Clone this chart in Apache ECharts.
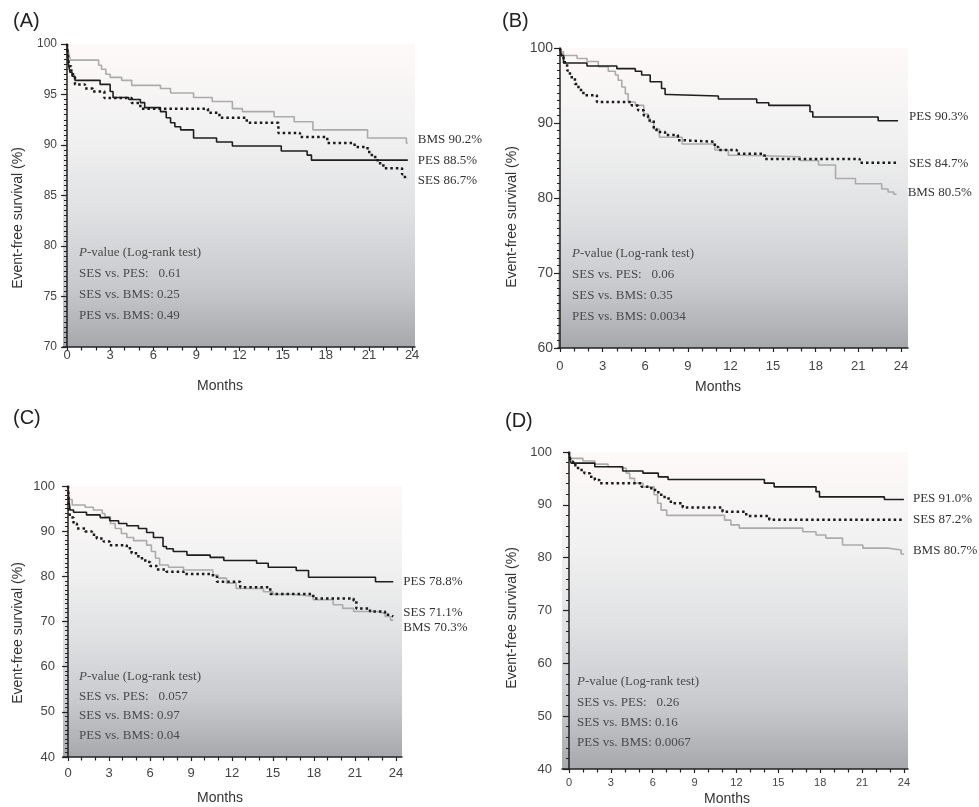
<!DOCTYPE html>
<html>
<head>
<meta charset="utf-8">
<title>Event-free survival by stent type</title>
<script src="https://cdn.jsdelivr.net/npm/echarts@6/dist/echarts.min.js"></script>
<style>
  html, body { margin: 0; padding: 0; background: #ffffff; }
  #chart { width: 979px; height: 807px; }
</style>
</head>
<body>
<div id="chart"></div>
<script>
// ---- Kaplan-Meier step data: month of each step and survival (%) from that month on ----

// (A)
const A_BMS_t = [0, 0.05, 0.15, 0.25, 2.2, 2.4, 2.7, 3.0, 3.8, 4.5, 6.5, 7.2, 8.8, 10.1, 11.5, 12.2, 14.4, 15.8, 17.1, 20.9, 23.6, 23.7];
const A_BMS_v = [100, 99.5, 98.9, 98.4, 97.9, 97.5, 97.0, 96.7, 96.4, 95.9, 95.6, 95.15, 94.7, 94.3, 93.6, 93.3, 92.8, 92.3, 91.5, 90.7, 90.2, 90.2];
const A_PES_t = [0, 0.05, 0.1, 0.2, 0.35, 0.55, 2.3, 3.0, 3.2, 4.3, 5.1, 5.4, 6.5, 6.9, 7.2, 7.5, 7.9, 8.8, 10.4, 11.5, 14.9, 16.7, 17.0, 23.7];
const A_PES_v = [100, 99, 98, 97.2, 96.8, 96.4, 96.0, 95.3, 94.7, 94.5, 94.2, 93.7, 93.3, 92.7, 92.2, 91.8, 91.5, 90.7, 90.3, 89.9, 89.4, 89.0, 88.5, 88.5];
const A_SES_t = [0, 0.05, 0.15, 0.3, 0.55, 1.25, 1.8, 2.6, 4.5, 5.1, 9.8, 10.6, 12.5, 14.7, 16.2, 18.1, 20.0, 20.9, 21.2, 21.6, 22.0, 23.3, 23.5, 23.7];
const A_SES_v = [100, 99, 97.8, 97.0, 96.0, 95.6, 95.3, 94.65, 94.15, 93.6, 93.2, 92.7, 92.2, 91.2, 90.8, 90.2, 89.8, 89.3, 88.8, 88.2, 87.7, 87.1, 86.7, 86.7];

// (B)
const B_BMS_t = [0, 0.1, 0.25, 1.2, 1.9, 2.7, 3.4, 3.9, 4.1, 4.35, 4.6, 4.8, 5.3, 5.9, 6.2, 6.35, 6.6, 7.0, 8.6, 10.9, 11.85, 12.8, 16.9, 18.2, 19.4, 20.8, 22.65, 23.1, 23.5, 23.7];
const B_BMS_v = [100, 99.5, 99.0, 98.6, 98.2, 97.5, 96.9, 96.4, 95.7, 94.8, 93.9, 92.8, 92.35, 91.2, 90.6, 90.1, 89.2, 88.1, 87.2, 86.4, 85.7, 85.5, 85.0, 84.4, 82.6, 81.9, 81.2, 80.8, 80.5, 80.5];
const B_PES_t = [0, 0.1, 0.25, 1.9, 4.0, 5.3, 5.75, 6.35, 7.15, 7.4, 7.6, 11.15, 13.85, 14.7, 17.6, 17.8, 22.4, 23.8];
const B_PES_v = [100, 99.0, 98.0, 97.6, 97.25, 96.9, 96.4, 95.5, 94.6, 93.8, 93.6, 93.2, 92.7, 92.35, 91.5, 90.8, 90.3, 90.3];
const B_SES_t = [0, 0.1, 0.25, 0.5, 0.7, 1.05, 1.3, 1.65, 2.6, 5.05, 5.5, 5.9, 6.2, 6.6, 6.8, 7.4, 8.3, 8.7, 10.9, 11.15, 12.45, 14.4, 21.1, 23.8];
const B_SES_v = [100, 99, 98.1, 97.0, 96.1, 95.2, 94.4, 93.7, 92.8, 92.35, 91.7, 91.0, 90.35, 89.2, 88.8, 88.4, 87.7, 87.5, 86.8, 86.4, 85.9, 85.2, 84.7, 84.7];

// (C)
const C_BMS_t = [0, 0.05, 0.3, 1.25, 1.85, 2.5, 2.7, 3.1, 3.45, 3.9, 4.3, 4.8, 5.75, 6.1, 6.4, 6.7, 7.35, 8.45, 10.6, 11.0, 11.6, 12.3, 14.3, 15.0, 16.5, 17.95, 19.4, 20.1, 20.9, 22.6, 23.2, 23.6, 23.8];
const C_BMS_v = [100, 97, 95.8, 95.3, 94.7, 93.9, 93.2, 91.7, 90.6, 89.5, 88.6, 87.9, 86.9, 85.5, 84.0, 82.5, 82.0, 81.4, 80.3, 79.6, 78.5, 77.3, 76.6, 76.0, 75.6, 74.8, 73.7, 72.9, 72.2, 71.8, 71.1, 70.3, 70.3];
const C_PES_t = [0, 0.05, 0.15, 0.4, 1.35, 2.35, 3.05, 3.7, 4.3, 5.15, 5.75, 6.25, 6.95, 7.2, 7.7, 8.7, 10.4, 11.4, 13.8, 14.65, 16.7, 17.6, 22.5, 23.8];
const C_PES_v = [100, 97, 94.7, 94.2, 93.6, 93.0, 92.3, 91.7, 91.2, 90.6, 89.7, 88.6, 86.6, 86.1, 85.5, 84.7, 84.2, 83.5, 82.9, 82.0, 81.3, 79.8, 78.8, 78.8];
const C_SES_t = [0, 0.05, 0.15, 0.4, 0.65, 1.25, 1.75, 2.1, 2.6, 3.05, 4.3, 4.65, 5.15, 5.65, 6.0, 6.5, 7.2, 8.45, 10.6, 10.9, 12.6, 14.8, 17.95, 20.9, 21.1, 22.1, 23.2, 23.6, 23.8];
const C_SES_v = [100, 95, 93, 91.7, 90.6, 89.9, 89.2, 88.4, 87.7, 86.9, 86.2, 85.1, 84.0, 83.2, 82.3, 81.5, 81.0, 80.5, 79.9, 78.8, 77.6, 76.1, 75.1, 74.6, 72.9, 72.2, 71.5, 71.1, 71.1];

// (D)
const D_BMS_t = [0, 0.05, 0.15, 1.0, 1.85, 2.8, 3.5, 4.1, 4.35, 4.7, 5.3, 6.1, 6.35, 6.6, 7.0, 11.15, 11.6, 12.2, 16.75, 17.7, 18.4, 19.6, 21.05, 22.85, 23.8, 24.0];
const D_BMS_v = [100, 99.3, 98.8, 98.3, 97.7, 97.2, 96.9, 96.0, 95.0, 94.1, 93.4, 91.9, 90.3, 89.0, 88.0, 87.1, 86.2, 85.6, 84.9, 84.3, 83.7, 82.4, 81.8, 81.45, 80.7, 80.7];
const D_PES_t = [0, 0.05, 0.15, 1.85, 3.85, 5.3, 6.4, 7.1, 14.0, 14.7, 17.7, 17.95, 22.6, 24.0];
const D_PES_v = [100, 99, 97.9, 97.2, 96.4, 96.0, 95.3, 94.8, 94.1, 93.4, 92.5, 91.5, 91.0, 91.0];
const D_SES_t = [0, 0.05, 0.15, 0.3, 0.65, 1.1, 1.5, 1.85, 2.2, 5.2, 5.9, 6.4, 6.85, 7.3, 8.15, 11.0, 12.7, 14.35, 24.0];
const D_SES_v = [100, 99, 98.2, 97.5, 96.6, 96.0, 95.3, 94.7, 94.1, 93.4, 92.8, 91.9, 91.2, 90.3, 89.5, 88.7, 87.9, 87.2, 87.2];

// ---- axis ticks ----
const monthTicks = [0, 3, 6, 9, 12, 15, 18, 21, 24];
const monthMinorTicks = [1, 2, 4, 5, 7, 8, 10, 11, 13, 14, 16, 17, 19, 20, 22, 23];
const yRangeA = [70, 100], yRangeB = [60, 100], yRangeC = [40, 100], yRangeD = [40, 100];

// ---- log-rank p-values ----
const pA = ['SES vs. PES:   0.61', 'SES vs. BMS: 0.25', 'PES vs. BMS: 0.49'];
const pB = ['SES vs. PES:   0.06', 'SES vs. BMS: 0.35', 'PES vs. BMS: 0.0034'];
const pC = ['SES vs. PES:   0.057', 'SES vs. BMS: 0.97', 'PES vs. BMS: 0.04'];
const pD = ['SES vs. PES:   0.26', 'SES vs. BMS: 0.16', 'PES vs. BMS: 0.0067'];

const SANS = 'Liberation Sans, Arial, sans-serif';
const SERIF = 'Liberation Serif, Times New Roman, serif';

const plotFill = {
  type: 'linear', x: 0, y: 0, x2: 0, y2: 1,
  colorStops: [
    { offset: 0, color: '#fdf9f8' },
    { offset: 0.3, color: '#f1f1f1' },
    { offset: 0.55, color: '#e0e1e3' },
    { offset: 0.8, color: '#c8c9cc' },
    { offset: 1, color: '#a6a8ac' }
  ]
};

// layout of the four panels
const panels = [
  { key: 'A', grid: { left: 63, top: 44, width: 352, height: 303 }, xMin: -0.28, xMax: 24.2, y: yRangeA, yInt: 5, yMinor: 10,
    xFont: 13, xMargin: 2, yFont: 12, yMargin: 6,
    series: [[A_BMS_t, A_BMS_v, 'BMS', 10, -3], [A_PES_t, A_PES_v, 'PES', 10, 0], [A_SES_t, A_SES_v, 'SES', 10, 2]],
    letter: [13, 21], yName: [18, 218], months: [220, 386], p: pA, pPos: [79, 253, 20.7] },
  { key: 'B', grid: { left: 558, top: 48, width: 350, height: 300 }, xMin: -0.14, xMax: 24.5, y: yRangeB, yInt: 10, yMinor: 10,
    xFont: 13, xMargin: 12, yFont: 14, yMargin: 5,
    series: [[B_BMS_t, B_BMS_v, 'BMS', 11, -2], [B_PES_t, B_PES_v, 'PES', 11, -4], [B_SES_t, B_SES_v, 'SES', 11, 1]],
    letter: [502, 21], yName: [512, 217], months: [718, 387], p: pB, pPos: [572, 254, 20.7] },
  { key: 'C', grid: { left: 63, top: 486, width: 339, height: 271 }, xMin: -0.37, xMax: 24.44, y: yRangeC, yInt: 10, yMinor: 10,
    xFont: 13, xMargin: 10, yFont: 13, yMargin: 8,
    series: [[C_BMS_t, C_BMS_v, 'BMS', 10, 7], [C_PES_t, C_PES_v, 'PES', 10, 0], [C_SES_t, C_SES_v, 'SES', 10, -4]],
    letter: [13, 418], yName: [18, 633], months: [220, 798], p: pC, pPos: [79, 677, 19.4] },
  { key: 'D', grid: { left: 562, top: 452, width: 346, height: 317 }, xMin: -0.5, xMax: 24.29, y: yRangeD, yInt: 10, yMinor: 5,
    xFont: 11, xMargin: 8, yFont: 13, yMargin: 10,
    series: [[D_BMS_t, D_BMS_v, 'BMS', 9, -3], [D_PES_t, D_PES_v, 'PES', 9, -1], [D_SES_t, D_SES_v, 'SES', 9, 0]],
    letter: [505, 421], yName: [512, 618], months: [727, 799], p: pD, pPos: [577, 682, 20.3] }
];

const lineStyles = {
  BMS: { color: '#ababab', width: 1.6, type: 'solid' },
  PES: { color: '#1e1e1e', width: 1.6, type: 'solid' },
  SES: { color: '#1a1a1a', width: 2.5, type: [2.5, 3] }
};

const axisLine = { show: true, lineStyle: { color: '#222', width: 1.5 } };

const grids = [], xAxes = [], yAxes = [], series = [], graphics = [];

panels.forEach((p, i) => {
  grids.push(Object.assign({
    show: true, backgroundColor: plotFill, borderWidth: 0, containLabel: false
  }, p.grid));

  // main month axis with labelled ticks
  xAxes.push({
    type: 'value', gridIndex: i, position: 'bottom', min: p.xMin, max: p.xMax,
    axisLine: axisLine,
    axisTick: { show: true, length: 4, customValues: monthTicks, lineStyle: { color: '#222', width: 1.2 } },
    axisLabel: { show: true, customValues: monthTicks, margin: p.xMargin, fontFamily: SANS, fontSize: p.xFont, color: '#444' },
    splitLine: { show: false }
  });
  // unlabelled monthly ticks
  xAxes.push({
    type: 'value', gridIndex: i, position: 'bottom', min: p.xMin, max: p.xMax,
    axisLine: { show: false },
    axisTick: { show: true, length: 3.5, customValues: monthMinorTicks, lineStyle: { color: '#222', width: 1.2 } },
    axisLabel: { show: false },
    splitLine: { show: false }
  });

  yAxes.push({
    type: 'value', gridIndex: i, min: p.y[0], max: p.y[1], interval: p.yInt,
    axisLine: axisLine,
    axisTick: { show: true, length: 6, lineStyle: { color: '#222', width: 1.2 } },
    minorTick: { show: true, splitNumber: p.yMinor, length: 3, lineStyle: { color: '#222', width: 1 } },
    axisLabel: { margin: p.yMargin, fontFamily: SANS, fontSize: p.yFont, color: '#444' },
    splitLine: { show: false }
  });

  p.series.forEach(([t, v, name, dist, dy]) => {
    series.push({
      name: p.key + ' ' + name,
      type: 'line', step: 'end', xAxisIndex: 2 * i, yAxisIndex: i,
      showSymbol: false, symbol: 'none', animation: false, silent: true,
      z: name === 'SES' ? 4 : (name === 'PES' ? 3 : 2),
      lineStyle: Object.assign({ cap: 'butt' }, lineStyles[name]),
      data: t.map((m, k) => [m, v[k]]),
      endLabel: {
        show: true, distance: dist, offset: [0, dy],
        formatter: (prm) => name + ' ' + prm.value[1].toFixed(1) + '%',
        fontFamily: SERIF, fontSize: 13, color: '#333'
      }
    });
  });

  // panel letter
  graphics.push({
    type: 'text', x: p.letter[0], y: p.letter[1],
    style: { text: '(' + p.key + ')', font: '20px ' + SANS, fill: '#222', align: 'left', verticalAlign: 'middle', textAlign: 'left', textVerticalAlign: 'middle' }
  });
  // y axis title
  graphics.push({
    type: 'text', x: p.yName[0], y: p.yName[1], rotation: Math.PI / 2,
    style: { text: 'Event-free survival (%)', font: '14px ' + SANS, fill: '#333', align: 'center', verticalAlign: 'middle', textAlign: 'center', textVerticalAlign: 'middle' }
  });
  // x axis title
  graphics.push({
    type: 'text', x: p.months[0], y: p.months[1],
    style: { text: 'Months', font: '14px ' + SANS, fill: '#333', align: 'center', verticalAlign: 'middle', textAlign: 'center', textVerticalAlign: 'middle' }
  });
  // log-rank annotation block
  const lines = ['{i|P}-value (Log-rank test)'].concat(p.p);
  lines.forEach((txt, k) => {
    graphics.push({
      type: 'text', x: p.pPos[0], y: p.pPos[1] + k * p.pPos[2],
      style: {
        text: txt, fontFamily: SERIF, fontSize: 13, fill: '#4a4a4a',
        align: 'left', verticalAlign: 'middle', textAlign: 'left', textVerticalAlign: 'middle',
        rich: { i: { fontFamily: SERIF, fontSize: 13, fontStyle: 'italic', fill: '#4a4a4a' } }
      }
    });
  });
});

const chart = echarts.init(document.getElementById('chart'), null, { renderer: 'canvas' });
chart.setOption({
  backgroundColor: '#ffffff',
  animation: false,
  grid: grids,
  xAxis: xAxes,
  yAxis: yAxes,
  series: series,
  graphic: { elements: graphics }
});
</script>
</body>
</html>
